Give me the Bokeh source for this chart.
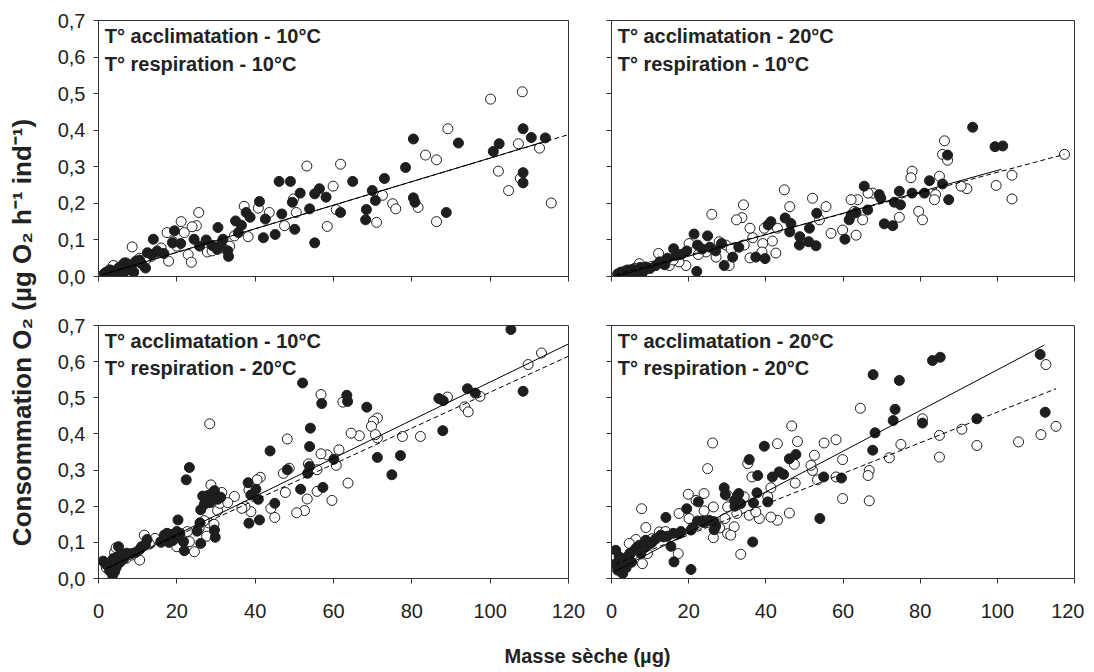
from math import pi
from bokeh.plotting import figure
from bokeh.layouts import row, column
from bokeh.models import Range1d, FixedTicker, CustomJSTickFormatter, Label
from bokeh.embed import file_html
from bokeh.resources import INLINE
from bokeh.core.properties import value

# ---------------- data ----------------
X_TICKS = [0, 20, 40, 60, 80, 100, 120]
Y_TICKS = [0.0, 0.1, 0.2, 0.3, 0.4, 0.5, 0.6, 0.7]
Y_LABEL = "Consommation O\u2082 (\u00b5g O\u2082 h\u207b\u00b9 ind\u207b\u00b9)"
X_LABEL = "Masse s\u00e8che (\u00b5g)"

titles_tl = ["T\u00b0 acclimatation - 10\u00b0C", "T\u00b0 respiration - 10\u00b0C"]
titles_tr = ["T\u00b0 acclimatation - 20\u00b0C", "T\u00b0 respiration - 10\u00b0C"]
titles_bl = ["T\u00b0 acclimatation - 10\u00b0C", "T\u00b0 respiration - 20\u00b0C"]
titles_br = ["T\u00b0 acclimatation - 20\u00b0C", "T\u00b0 respiration - 20\u00b0C"]

tl_open = [(108.2,0.505),(100.1,0.485),(89.2,0.404),(83.5,0.332),(86.3,0.319),(53.2,0.302),(61.8,0.307),(102.1,0.288),(107.2,0.363),(112.6,0.351),(104.7,0.235),(107.7,0.268),(115.6,0.201),(81.6,0.189),(75.1,0.199),(75.9,0.185),(72.5,0.222),(71.0,0.148),(86.3,0.150),(59.9,0.247),(60.7,0.183),(58.4,0.137),(50.5,0.175),(49.8,0.212),(47.5,0.139),(43.6,0.175),(40.8,0.187),(37.2,0.192),(38.2,0.109),(34.7,0.111),(33.5,0.083),(27.8,0.067),(25.6,0.175),(25.0,0.139),(23.9,0.136),(21.1,0.150),(21.9,0.120),(22.9,0.060),(23.7,0.039),(17.9,0.042),(17.5,0.120),(20.0,0.083),(16.0,0.078),(8.6,0.081),(13.5,0.055),(31.8,0.078),(2.2,0.007),(4.1,0.028),(7.1,0.037),(1.2,0.004),(2.8,0.018),(3.8,0.030),(4.8,0.012),(5.8,0.022),(9.5,0.040),(10.5,0.050),(12.0,0.045),(15.0,0.070),(19.0,0.095),(29.0,0.070)]
tl_fill = [(108.4,0.404),(110.5,0.380),(114.1,0.379),(102.3,0.363),(100.8,0.342),(80.4,0.376),(91.9,0.365),(78.4,0.298),(108.4,0.284),(108.4,0.256),(80.4,0.215),(80.8,0.203),(88.8,0.175),(73.0,0.268),(69.9,0.235),(70.7,0.208),(68.4,0.183),(68.2,0.155),(64.9,0.260),(61.8,0.175),(56.4,0.240),(55.2,0.226),(58.1,0.217),(53.9,0.185),(51.5,0.228),(49.5,0.203),(49.0,0.260),(46.1,0.260),(55.2,0.092),(50.1,0.129),(45.1,0.115),(46.8,0.171),(42.6,0.157),(41.1,0.205),(42.1,0.106),(37.7,0.175),(38.7,0.162),(35.0,0.152),(35.7,0.120),(30.5,0.134),(31.8,0.102),(30.3,0.074),(33.2,0.055),(31.3,0.088),(24.4,0.102),(25.8,0.083),(19.4,0.125),(18.9,0.092),(16.7,0.063),(14.0,0.102),(12.5,0.065),(12.0,0.023),(3.2,0.014),(5.1,0.023),(6.6,0.037),(8.1,0.018),(4.1,0.002),(9.6,0.042),(1.5,0.008),(2.0,0.012),(2.5,0.005),(3.0,0.018),(3.6,0.010),(4.5,0.008),(5.5,0.015),(6.0,0.030),(7.0,0.035),(7.5,0.025),(8.5,0.032),(10.5,0.045),(11.0,0.035),(6.2,0.005),(13.5,0.060),(9.0,0.012),(15.0,0.068),(27.5,0.100),(29.0,0.085),(33.0,0.070),(36.5,0.140),(21.0,0.090)]
tl_solid_x = [2, 113]
tl_solid_y = [0.008, 0.366]
tl_dash_x = [1, 120]
tl_dash_y = [0.005, 0.388]

tr_open = [(117.4,0.334),(86.3,0.371),(85.8,0.334),(87.1,0.318),(85.0,0.274),(103.8,0.277),(99.7,0.249),(103.8,0.212),(92.1,0.240),(90.6,0.247),(77.9,0.288),(77.6,0.270),(84.0,0.224),(83.7,0.210),(79.6,0.178),(80.6,0.155),(74.6,0.162),(67.7,0.228),(66.5,0.228),(63.8,0.210),(62.1,0.210),(62.9,0.178),(65.1,0.155),(63.4,0.113),(59.9,0.127),(56.9,0.118),(55.6,0.191),(53.9,0.155),(52.1,0.214),(44.8,0.237),(46.2,0.191),(43.0,0.132),(41.7,0.097),(42.6,0.064),(39.6,0.132),(39.2,0.090),(39.0,0.067),(36.6,0.106),(35.9,0.132),(34.2,0.196),(33.8,0.161),(32.4,0.155),(35.9,0.051),(34.4,0.086),(29.6,0.086),(30.5,0.030),(27.9,0.095),(26.0,0.170),(20.1,0.090),(19.3,0.030),(17.5,0.040),(15.0,0.030),(12.2,0.063),(27.1,0.053),(24.5,0.067),(7.2,0.035),(2.0,0.008),(3.5,0.015),(5.0,0.010),(6.0,0.022),(9.0,0.020),(10.5,0.028),(13.5,0.035),(16.0,0.045),(22.5,0.060),(31.0,0.075)]
tr_fill = [(93.6,0.408),(99.4,0.355),(101.4,0.357),(87.1,0.332),(87.4,0.210),(82.4,0.262),(85.8,0.253),(81.1,0.228),(77.9,0.228),(74.6,0.233),(73.3,0.203),(74.9,0.196),(69.8,0.214),(69.4,0.224),(65.5,0.247),(66.4,0.182),(70.7,0.144),(72.9,0.139),(63.4,0.175),(62.1,0.168),(61.6,0.155),(60.5,0.102),(53.2,0.173),(53.0,0.084),(51.3,0.132),(51.1,0.095),(48.8,0.109),(48.7,0.086),(46.5,0.145),(46.2,0.122),(41.3,0.150),(40.6,0.141),(37.4,0.053),(39.8,0.049),(31.4,0.053),(29.2,0.030),(24.9,0.111),(21.4,0.116),(22.3,0.086),(23.5,0.075),(16.1,0.076),(16.7,0.058),(22.1,0.014),(11.5,0.030),(8.9,0.026),(1.6,0.007),(2.5,0.012),(3.0,0.005),(4.2,0.018),(4.8,0.008),(5.5,0.020),(6.5,0.014),(7.5,0.025),(8.0,0.010),(10.0,0.022),(12.5,0.040),(13.8,0.032),(14.5,0.050),(18.0,0.060),(19.5,0.070),(25.5,0.080),(27.0,0.070),(28.5,0.090),(33.0,0.080),(45.0,0.160)]
tr_solid_x = [1, 101]
tr_solid_y = [0.0, 0.293]
tr_dash_x = [1, 117.4]
tr_dash_y = [0.005, 0.334]

bl_open = [(113.1,0.624),(109.7,0.592),(97.4,0.504),(89.1,0.502),(93.5,0.475),(94.4,0.461),(82.2,0.393),(77.6,0.393),(71.2,0.444),(70.2,0.435),(69.7,0.421),(71.2,0.389),(70.7,0.398),(66.6,0.395),(64.5,0.402),(62.4,0.488),(61.4,0.356),(63.7,0.264),(60.7,0.313),(59.6,0.216),(58.4,0.342),(56.8,0.345),(56.8,0.509),(55.8,0.301),(55.8,0.241),(53.6,0.317),(53.3,0.220),(52.6,0.188),(50.6,0.182),(48.2,0.386),(48.7,0.305),(47.2,0.291),(47.7,0.238),(45.0,0.169),(44.0,0.194),(41.3,0.280),(40.5,0.273),(38.9,0.185),(37.4,0.199),(38.4,0.245),(36.6,0.194),(34.7,0.227),(31.5,0.238),(30.4,0.188),(31.0,0.208),(28.4,0.428),(28.7,0.259),(28.1,0.154),(27.6,0.117),(25.7,0.139),(24.5,0.074),(23.2,0.102),(22.7,0.130),(20.0,0.088),(17.8,0.106),(14.4,0.111),(11.7,0.120),(10.5,0.051),(4.1,0.072),(7.1,0.056),(5.1,0.042),(2.0,0.030),(3.0,0.045),(4.5,0.085),(8.5,0.065),(13.0,0.095),(16.0,0.100),(19.0,0.120),(27.0,0.160),(29.5,0.150),(33.0,0.210)]
bl_fill = [(105.3,0.689),(108.4,0.518),(94.2,0.525),(96.2,0.513),(86.9,0.498),(88.0,0.492),(87.9,0.409),(77.1,0.340),(74.9,0.287),(71.2,0.335),(68.5,0.474),(63.4,0.507),(63.6,0.490),(60.1,0.330),(57.0,0.484),(57.3,0.252),(54.1,0.416),(53.9,0.365),(53.9,0.310),(53.4,0.291),(51.6,0.247),(52.1,0.541),(48.2,0.301),(45.0,0.208),(43.8,0.353),(41.1,0.162),(40.8,0.219),(40.2,0.247),(38.9,0.231),(38.2,0.265),(38.4,0.153),(29.6,0.243),(30.4,0.219),(31.2,0.225),(29.6,0.134),(29.8,0.114),(26.6,0.228),(27.6,0.217),(26.1,0.190),(25.9,0.154),(25.2,0.131),(26.1,0.097),(23.2,0.307),(22.4,0.273),(20.3,0.162),(20.8,0.125),(21.7,0.102),(21.9,0.077),(18.3,0.111),(16.8,0.120),(15.9,0.102),(12.4,0.108),(11.0,0.088),(8.5,0.069),(6.1,0.068),(5.1,0.088),(1.2,0.048),(2.2,0.037),(3.1,0.028),(4.1,0.019),(3.6,0.009),(2.8,0.022),(4.5,0.030),(5.5,0.045),(6.5,0.055),(1.8,0.040),(3.8,0.055),(4.8,0.060),(7.2,0.070),(9.5,0.072),(10.5,0.080),(12.0,0.095),(17.0,0.110),(18.0,0.100),(18.5,0.122),(19.0,0.105),(19.5,0.115),(20.0,0.130),(17.5,0.125),(27.0,0.205),(28.0,0.230),(28.5,0.210)]
bl_solid_x = [2, 120]
bl_solid_y = [0.027, 0.649]
bl_dash_x = [2, 120]
bl_dash_y = [0.028, 0.615]

br_open = [(112.6,0.592),(115.2,0.421),(111.3,0.398),(105.5,0.378),(94.7,0.368),(90.8,0.413),(85.0,0.396),(85.0,0.336),(80.6,0.442),(75.0,0.371),(72.0,0.334),(66.8,0.299),(66.5,0.285),(66.8,0.215),(64.5,0.471),(59.9,0.329),(59.9,0.221),(58.2,0.281),(58.2,0.384),(55.1,0.375),(53.4,0.273),(52.6,0.341),(52.1,0.299),(51.7,0.313),(48.2,0.379),(46.7,0.422),(47.4,0.316),(47.6,0.264),(46.1,0.181),(43.0,0.373),(43.0,0.161),(41.3,0.170),(41.3,0.251),(40.5,0.226),(38.3,0.166),(36.4,0.281),(35.3,0.318),(35.7,0.175),(37.4,0.184),(33.5,0.067),(34.4,0.226),(31.8,0.143),(30.1,0.124),(30.9,0.120),(29.4,0.166),(30.1,0.198),(30.1,0.230),(26.2,0.375),(26.4,0.198),(26.2,0.157),(26.4,0.113),(24.9,0.304),(24.0,0.235),(24.0,0.187),(21.9,0.216),(19.9,0.233),(20.1,0.166),(17.5,0.180),(17.3,0.069),(12.4,0.129),(8.9,0.141),(7.8,0.193),(6.3,0.108),(4.6,0.097),(8.0,0.041),(9.3,0.069),(2.0,0.030),(3.5,0.050),(5.5,0.065),(10.5,0.110),(14.0,0.130),(22.5,0.150),(28.0,0.140),(32.5,0.180)]
br_fill = [(111.1,0.620),(112.4,0.460),(85.2,0.612),(83.2,0.603),(67.8,0.564),(74.6,0.548),(73.5,0.468),(73.0,0.437),(94.7,0.442),(80.6,0.430),(68.3,0.403),(67.7,0.355),(59.6,0.278),(55.0,0.281),(54.0,0.166),(47.8,0.343),(46.1,0.331),(43.5,0.295),(44.6,0.288),(41.7,0.281),(39.6,0.366),(40.5,0.212),(37.7,0.237),(37.9,0.285),(36.8,0.209),(35.7,0.329),(36.6,0.101),(32.7,0.230),(31.9,0.216),(33.5,0.207),(29.2,0.251),(29.5,0.232),(26.6,0.157),(26.6,0.135),(25.3,0.161),(23.6,0.159),(22.3,0.159),(22.5,0.212),(20.6,0.134),(19.5,0.193),(20.6,0.025),(17.5,0.124),(16.2,0.046),(15.4,0.089),(14.1,0.169),(14.5,0.117),(12.8,0.120),(11.5,0.110),(8.9,0.106),(7.2,0.092),(5.9,0.078),(4.1,0.060),(2.4,0.041),(1.6,0.023),(2.9,0.014),(1.1,0.078),(1.0,0.040),(7.6,0.069),(8.5,0.085),(3.2,0.050),(4.8,0.070),(6.5,0.085),(9.8,0.095),(10.5,0.100),(2.0,0.060),(3.8,0.030),(5.2,0.045),(13.5,0.115),(16.0,0.125),(18.0,0.130),(21.0,0.140),(24.0,0.155),(27.0,0.145),(32.0,0.200),(33.0,0.235)]
br_solid_x = [1, 112.2]
br_solid_y = [0.020, 0.646]
br_dash_x = [1, 115.2]
br_dash_y = [0.040, 0.525]

# ---------------- styling / layout ----------------
FONT = "Liberation Sans"
INK = "#1e1e1e"
TICK_FS = "20px"
NOTE_FS = "20px"

def panel(w, h, mbl, mbr, mbt, mbb, show_x, show_y, opn, fil, sx, sy, dx, dy, titles):
    p = figure(width=w, height=h, x_range=Range1d(0, 120), y_range=Range1d(0, 0.7),
               output_backend="svg", toolbar_location=None,
               min_border_left=mbl, min_border_right=mbr,
               min_border_top=mbt, min_border_bottom=mbb)
    p.xgrid.visible = False
    p.ygrid.visible = False
    p.outline_line_color = "#333333"
    p.outline_line_width = 1
    p.outline_line_alpha = 1
    p.background_fill_color = "white"
    p.border_fill_color = "white"
    p.xaxis.ticker = FixedTicker(ticks=X_TICKS)
    p.yaxis.ticker = FixedTicker(ticks=Y_TICKS)
    if show_x:
        p.xaxis.formatter = CustomJSTickFormatter(code="return tick.toFixed(0);")
    else:
        p.xaxis.formatter = CustomJSTickFormatter(code="return '';")
    if show_y:
        p.yaxis.formatter = CustomJSTickFormatter(code="return tick.toFixed(1).replace('.', ',');")
    else:
        p.yaxis.formatter = CustomJSTickFormatter(code="return '';")
    for ax in (p.xaxis[0], p.yaxis[0]):
        ax.axis_line_color = "#333333"
        ax.major_tick_line_color = "#333333"
        ax.minor_tick_line_color = None
        ax.major_tick_out = 5
        ax.major_tick_in = 0
        ax.major_label_text_font = FONT
        ax.major_label_text_font_size = TICK_FS
        ax.major_label_text_color = "#222222"
    p.xaxis.major_label_standoff = 20
    p.yaxis.major_label_standoff = 8

    ox = [a for a, b in opn]
    oy = [b for a, b in opn]
    fx = [a for a, b in fil]
    fy = [b for a, b in fil]
    p.scatter(ox, oy, size=10, marker="circle", fill_color="white", line_color=INK, line_width=1)
    p.scatter(fx, fy, size=10, marker="circle", fill_color=INK, line_color=INK, line_width=1)
    p.line(sx, sy, line_color="black", line_width=1)
    p.line(dx, dy, line_color="black", line_width=1, line_dash="5 3")

    for t, yy in zip(titles, [0.658, 0.582]):
        p.add_layout(Label(x=1.6, y=yy, text=t, text_font=FONT, text_font_style="bold",
                           text_font_size=NOTE_FS, text_color="#222222", text_baseline="middle"))
    return p

p1 = panel(550, 300, 58, 22, 20, 24, False, True, tl_open, tl_fill, tl_solid_x, tl_solid_y, tl_dash_x, tl_dash_y, titles_tl)
p2 = panel(494, 300, 21, 10, 20, 24, False, False, tr_open, tr_fill, tr_solid_x, tr_solid_y, tr_dash_x, tr_dash_y, titles_tr)
p3 = panel(550, 330, 58, 22, 25, 52, True, True, bl_open, bl_fill, bl_solid_x, bl_solid_y, bl_dash_x, bl_dash_y, titles_bl)
p4 = panel(494, 330, 21, 10, 25, 52, True, False, br_open, br_fill, br_solid_x, br_solid_y, br_dash_x, br_dash_y, titles_br)

def blank(w, h, xr, yr):
    f = figure(width=w, height=h, x_range=xr, y_range=yr, output_backend="svg",
               toolbar_location=None, min_border=0)
    f.axis.visible = False
    f.grid.visible = False
    f.outline_line_color = None
    return f

# page-pixel ranges so that text positions are screen positions
ylab = blank(40, 668, Range1d(0, 40), Range1d(668, 0))
ylab.text(x=[21], y=[332], text=[Y_LABEL], angle=pi / 2, text_align="center",
          text_baseline="middle", text_font=value(FONT), text_font_style="bold",
          text_font_size="26px", text_color="#222222")

xlab = blank(1044, 38, Range1d(40, 1084), Range1d(668, 630))
xlab.text(x=[587], y=[655], text=[X_LABEL], text_align="center", text_baseline="middle",
          text_font=value(FONT), text_font_style="bold",
          text_font_size="20px", text_color="#222222")

layout = row(ylab, column(row(p1, p2), row(p3, p4), xlab))

open("out.html", "w").write(file_html(layout, INLINE))
